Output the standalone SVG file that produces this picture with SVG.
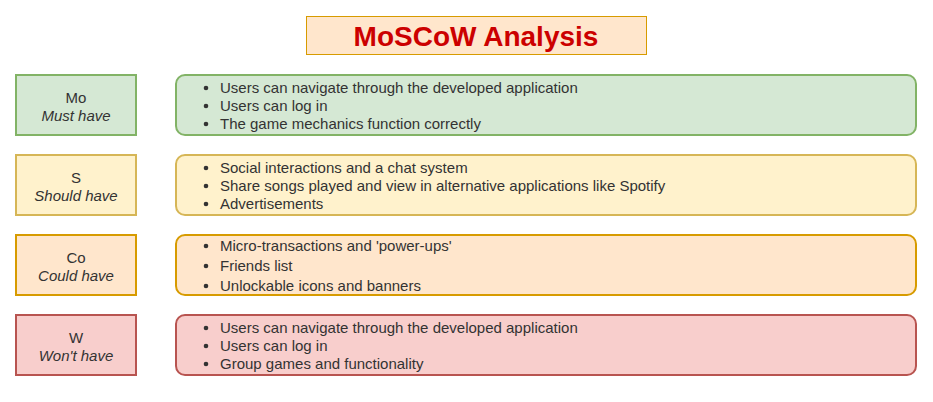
<svg xmlns="http://www.w3.org/2000/svg" width="933" height="402" viewBox="0 0 933 402">
<style>
text{font-family:"Liberation Sans",Arial,sans-serif;font-size:15px;fill:#333333}
.lbl{text-anchor:middle}
.it{font-style:italic}
.title{font-size:28px;font-weight:bold;fill:#cc0000;text-anchor:middle}
.g{fill:#d5e8d4;stroke:#82b366;stroke-width:2}
.y{fill:#fff2cc;stroke:#d6b656;stroke-width:2}
.o{fill:#ffe6cc;stroke:#d79b00;stroke-width:2}
.r{fill:#f8cecc;stroke:#b85450;stroke-width:2}
.b{fill:#333333}
</style>
<rect width="933" height="402" fill="#ffffff"/>
<g id="title">
<rect x="306.5" y="16.5" width="340" height="38" fill="#ffe6cc" stroke="#d79b00" stroke-width="1"/>
<text class="title" x="476" y="46">MoSCoW Analysis</text>
</g>
<g id="mo-label">
<rect class="g" x="16" y="75" width="120" height="60"/>
<text class="lbl" x="76" y="103">Mo</text>
<text class="lbl it" x="76" y="121">Must have</text>
</g>
<g id="mo-list">
<rect class="g" x="176" y="75" width="740" height="60" rx="9"/>
<circle class="b" cx="206" cy="88" r="2.3"/><text x="220" y="93">Users can navigate through the developed application</text>
<circle class="b" cx="206" cy="106" r="2.3"/><text x="220" y="111">Users can log in</text>
<circle class="b" cx="206" cy="124" r="2.3"/><text x="220" y="129">The game mechanics function correctly</text>
</g>
<g id="s-label">
<rect class="y" x="16" y="155" width="120" height="60"/>
<text class="lbl" x="76" y="183">S</text>
<text class="lbl it" x="76" y="201">Should have</text>
</g>
<g id="s-list">
<rect class="y" x="176" y="155" width="740" height="60" rx="9"/>
<circle class="b" cx="206" cy="168" r="2.3"/><text x="220" y="173">Social interactions and a chat system</text>
<circle class="b" cx="206" cy="186" r="2.3"/><text x="220" y="191">Share songs played and view in alternative applications like Spotify</text>
<circle class="b" cx="206" cy="204" r="2.3"/><text x="220" y="209">Advertisements</text>
</g>
<g id="co-label">
<rect class="o" x="16" y="235" width="120" height="60"/>
<text class="lbl" x="76" y="263">Co</text>
<text class="lbl it" x="76" y="281">Could have</text>
</g>
<g id="co-list">
<rect class="o" x="176" y="235" width="740" height="60" rx="9"/>
<circle class="b" cx="206" cy="246" r="2.3"/><text x="220" y="251">Micro-transactions and 'power-ups'</text>
<circle class="b" cx="206" cy="266" r="2.3"/><text x="220" y="271">Friends list</text>
<circle class="b" cx="206" cy="286" r="2.3"/><text x="220" y="291">Unlockable icons and banners</text>
</g>
<g id="w-label">
<rect class="r" x="16" y="315" width="120" height="60"/>
<text class="lbl" x="76" y="343">W</text>
<text class="lbl it" x="76" y="361">Won't have</text>
</g>
<g id="w-list">
<rect class="r" x="176" y="315" width="740" height="60" rx="9"/>
<circle class="b" cx="206" cy="328" r="2.3"/><text x="220" y="333">Users can navigate through the developed application</text>
<circle class="b" cx="206" cy="346" r="2.3"/><text x="220" y="351">Users can log in</text>
<circle class="b" cx="206" cy="364" r="2.3"/><text x="220" y="369">Group games and functionality</text>
</g>
<g id="connectors"></g>
</svg>
